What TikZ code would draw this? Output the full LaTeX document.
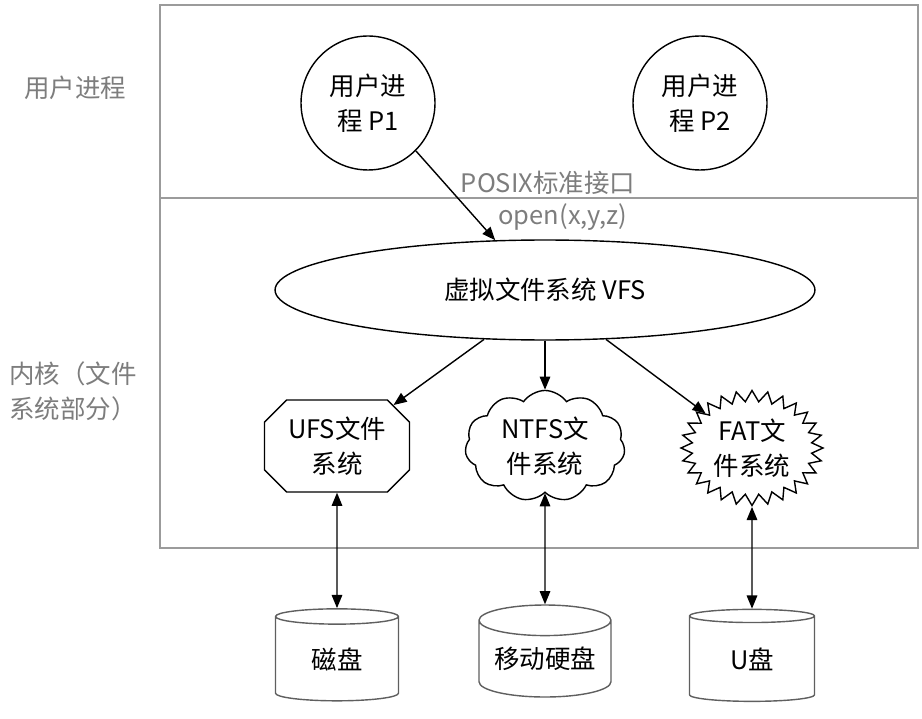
\documentclass[tikz,border=0pt]{standalone}
\usepackage{fontspec}
\setmainfont{Noto Sans CJK SC}
\usetikzlibrary{arrows.meta,shapes.geometric,shapes.misc,shapes.symbols}
\definecolor{FrameGray}{RGB}{155,155,155}
\definecolor{LabelGray}{RGB}{125,125,125}
\definecolor{DiskGray}{RGB}{95,95,95}

\begin{document}
\begin{tikzpicture}[x=0.02cm,y=-0.02cm,
        font=\fontsize{14.5}{20}\selectfont,
        proc/.style={draw,circle,line width=0.8pt,minimum size=2.68cm,
                     inner sep=0pt,align=center},
        fsbox/.style={draw,line width=0.8pt,align=center,inner sep=2pt},
        disk/.style={draw=DiskGray,line width=0.8pt,cylinder,shape border rotate=90,
                     aspect=0.3,minimum height=1.84cm,inner sep=0pt},
        arr/.style={-{Triangle[length=7.5pt,width=6pt]},line width=0.8pt},
        darr/.style={{Triangle[length=7.5pt,width=6pt]}-{Triangle[length=7.5pt,width=6pt]},line width=0.8pt},
        zone/.style={color=LabelGray,align=left}
      ]
        \useasboundingbox (0,0) rectangle (922,719);
        % frames
        \draw[FrameGray,line width=1pt] (160,5) rectangle (918,548);
        \draw[FrameGray,line width=1pt] (160,198) -- (918,198);
        \node[zone] (user) at (75,88) {用户进程};
        \node[zone] (kernel) at (73,391) {内核（文件\\系统部分）};
        % processes
        \node[proc] (p1) at (368,103) {用户进\\程 P1};
        \node[proc] (p2) at (700,103) {用户进\\程 P2};
        \node[color=LabelGray] (posix) at (548,183) {POSIX标准接口};
        \node[color=LabelGray] (open) at (563,217) {open(x,y,z)};
        % vfs
        \node[draw,ellipse,line width=0.8pt,minimum width=10.8cm,minimum height=2cm] (vfs) at (545,290) {虚拟文件系统 VFS};
        \node[fsbox,chamfered rectangle,chamfered rectangle xsep=0.22cm,chamfered rectangle ysep=0.22cm,
              minimum width=2.9cm,minimum height=1.84cm] (ufs) at (337,446) {UFS文件\\系统};
        \node[fsbox,cloud,cloud puffs=11,cloud puff arc=110,aspect=1.6,
              minimum width=3.2cm,minimum height=1.96cm] (ntfs) at (545,446) {NTFS文\\件系统};
        \node[fsbox,starburst,starburst points=28,starburst point height=0.22cm,random starburst=0,
              minimum width=2.84cm,minimum height=2.1cm] (fat) at (752,448) {FAT文\\件系统};
        % disks
        \node[disk,minimum width=2.46cm] (hdd) at (337,659) {磁盘};
        \node[disk,minimum width=2.64cm] (mhdd) at (545,659) {移动硬盘};
        \node[disk,minimum width=2.5cm] (usb) at (752,659) {U盘};
        % links
        \draw[arr] (p1.-45) -- (vfs.135);
        \draw[arr] (vfs.219) -- (ufs);
        \draw[arr] (vfs.south) -- (ntfs);
        \draw[arr] (vfs.-39) -- (fat);
        \draw[darr] (ufs) -- (hdd);
        \draw[darr] (ntfs) -- (mhdd);
        \draw[darr] (fat) -- (usb);
      \end{tikzpicture}
\end{document}
